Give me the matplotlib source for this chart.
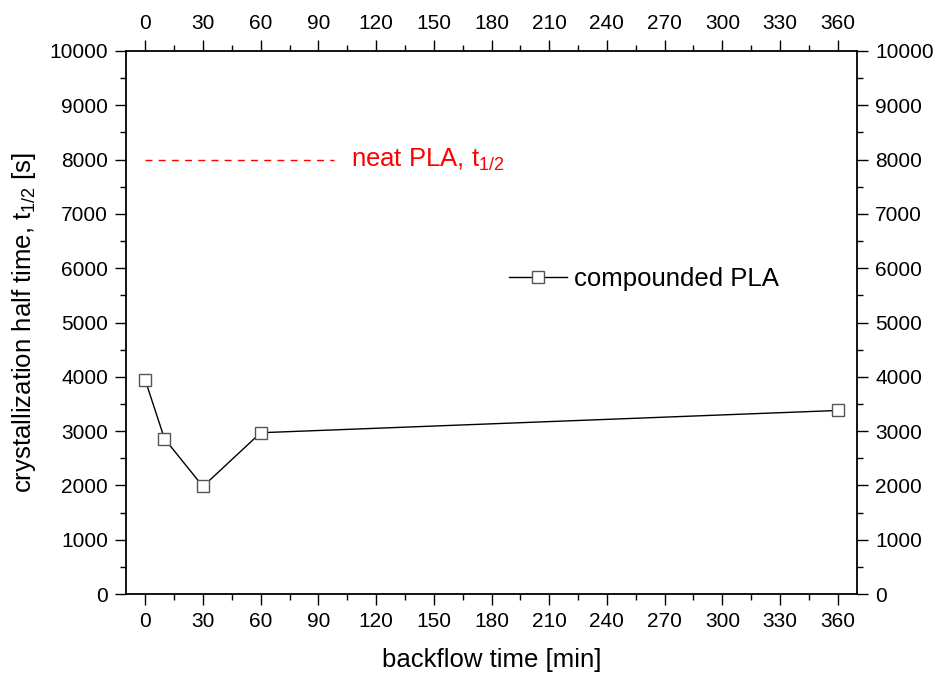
import numpy as np
import matplotlib
matplotlib.use("Agg")
import matplotlib.pyplot as plt
from matplotlib.ticker import MultipleLocator

plt.rcParams['font.family'] = ['Liberation Sans', 'DejaVu Sans']
plt.rcParams['mathtext.fontset'] = 'custom'
plt.rcParams['mathtext.rm'] = 'Liberation Sans'
plt.rcParams['mathtext.it'] = 'Liberation Sans'

# backflow time [min] vs crystallization half time [s]
backflow_time = [0, 10, 30, 60, 360]
half_time = [3940, 2860, 1980, 2970, 3380]

neat_x = [0, 98]
neat_t = [8000, 8000]

x_ticks = np.arange(0, 361, 30)
y_ticks = np.arange(0, 10001, 1000)

fig = plt.figure(figsize=(9.35, 6.77), dpi=100)
ax = fig.add_axes([126 / 935, 1 - 594 / 677, 731 / 935, 543 / 677])

line, = ax.plot(backflow_time, half_time, color='black', lw=1.0,
                marker='s', markersize=8, markerfacecolor='white',
                markeredgecolor='#555555', markeredgewidth=1.0,
                label='compounded PLA')
ax.plot(neat_x, neat_t, color='red', lw=1.0, linestyle=(0, (5, 4.5)))
ax.text(107, 8000, 'neat PLA, $\\mathregular{t_{1/2}}$', color='red',
        fontsize=18.5, va='center', ha='left')

ax.set_xlim(-10, 370)
ax.set_ylim(0, 10000)
ax.set_xticks(x_ticks)
ax.set_yticks(y_ticks)
ax.xaxis.set_minor_locator(MultipleLocator(15))
ax.yaxis.set_minor_locator(MultipleLocator(500))
ax.tick_params(which='both', direction='out', top=True, right=True,
               labeltop=True, labelright=True, width=1.0, labelsize=15)
ax.tick_params(which='major', length=8, pad=5)
ax.tick_params(which='minor', length=4)
for sp in ax.spines.values():
    sp.set_linewidth(1.3)

ax.set_xlabel('backflow time [min]', fontsize=18.5, labelpad=12)
ax.set_ylabel('crystallization half time, $\\mathregular{t_{1/2}}$ [s]',
              fontsize=18.5, labelpad=8)

ax.legend(handles=[line], loc='center left', bbox_to_anchor=(0.524, 0.58),
          frameon=False, fontsize=18.5, handlelength=2.25, handletextpad=0.27,
          borderpad=0, borderaxespad=0)

fig.savefig('out.png', dpi=100)
